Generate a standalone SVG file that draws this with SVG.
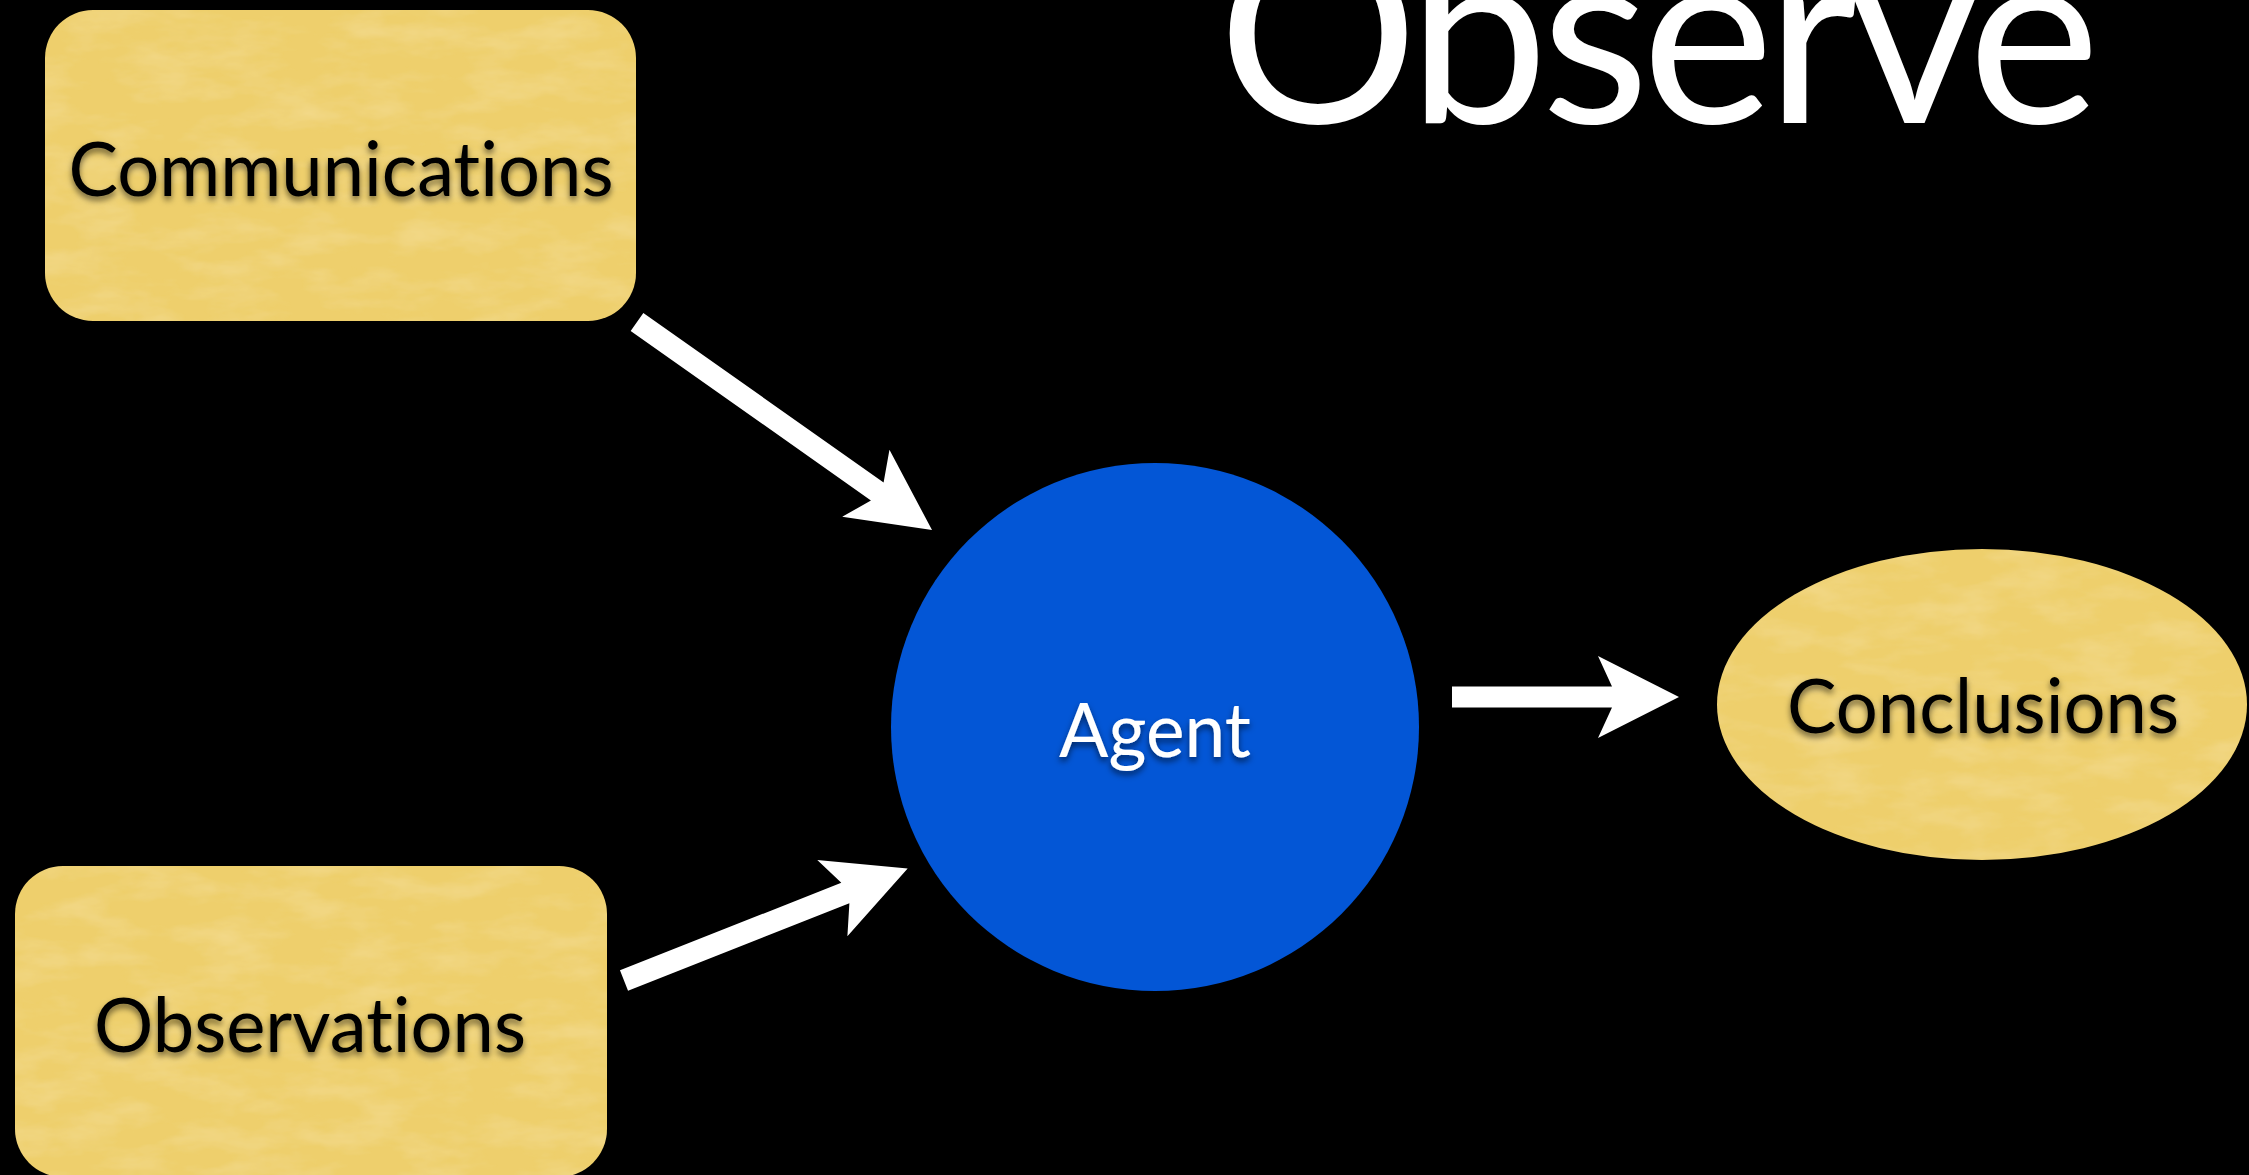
<svg xmlns="http://www.w3.org/2000/svg" width="2249" height="1175" viewBox="0 0 2249 1175">
  <defs>
    <style>
      .label { font-family: "Lato", "Liberation Sans", sans-serif; font-size: 75px; text-anchor: middle; font-variant-ligatures: none; }
      .dark { fill: #000000; }
      .light { fill: #ffffff; }
      .paper { fill: #EECF6C; }
      .agent { fill: #0356D6; }
      .arrow { fill: #ffffff; }
      .title { font-family: "Lato", "Liberation Sans", sans-serif; font-size: 250px; fill: #ffffff; font-variant-ligatures: none; }
    </style>
    <!-- soft shadow under the labels -->
    <filter id="textShadow" x="-10%" y="-30%" width="120%" height="170%">
      <feDropShadow dx="0" dy="4" stdDeviation="3" flood-color="#000000" flood-opacity="0.55"/>
    </filter>
    <!-- faint mottling for the parchment-coloured shapes -->
    <filter id="parchment" x="0" y="0" width="100%" height="100%">
      <feTurbulence type="fractalNoise" baseFrequency="0.015 0.04" numOctaves="4" seed="7" result="noise"/>
      <feColorMatrix in="noise" type="matrix"
        values="0 0 0 0 1
                0 0 0 0 0.9
                0 0 0 0 0.55
                0 0 0 0.45 -0.18" result="spots"/>
      <feComposite in="spots" in2="SourceGraphic" operator="in" result="clipped"/>
      <feMerge>
        <feMergeNode in="SourceGraphic"/>
        <feMergeNode in="clipped"/>
      </feMerge>
    </filter>
  </defs>

  <rect x="0" y="0" width="2249" height="1175" fill="#000000"/>

  <!-- heading, running off the top edge -->
  <text class="title" x="1218" y="123" textLength="882" lengthAdjust="spacing">Observe</text>

  <!-- connectors -->
  <g id="connectors">
    <!-- Communications -> Agent -->
    <path class="arrow" transform="translate(637 322) rotate(35.19)"
          d="M0,-11 L294,-11 L280,-41 L361,0 L280,41 L294,11 L0,11 Z"/>
    <!-- Observations -> Agent -->
    <path class="arrow" transform="translate(624 980.5) rotate(-21.56)"
          d="M0,-11 L238,-11 L224,-41 L305,0 L224,41 L238,11 L0,11 Z"/>
    <!-- Agent -> Conclusions -->
    <path class="arrow" transform="translate(1452 697)"
          d="M0,-10.5 L160,-10.5 L146,-41 L227,0 L146,41 L160,10.5 L0,10.5 Z"/>
  </g>

  <g id="communications">
    <rect class="paper" x="45" y="10" width="591" height="311" rx="48" ry="48" filter="url(#parchment)"/>
    <text class="label dark" x="341" y="196" textLength="545" lengthAdjust="spacingAndGlyphs" filter="url(#textShadow)">Communications</text>
  </g>

  <g id="observations">
    <rect class="paper" x="15" y="866" width="592" height="311" rx="48" ry="48" filter="url(#parchment)"/>
    <text class="label dark" x="310" y="1052" textLength="432" lengthAdjust="spacingAndGlyphs" filter="url(#textShadow)">Observations</text>
  </g>

  <g id="agent">
    <circle class="agent" cx="1155" cy="727" r="264"/>
    <text class="label light" x="1155" y="757" textLength="192" lengthAdjust="spacingAndGlyphs" filter="url(#textShadow)">Agent</text>
  </g>

  <g id="conclusions">
    <ellipse class="paper" cx="1982" cy="704.5" rx="265" ry="155.5" filter="url(#parchment)"/>
    <text class="label dark" x="1983" y="733" textLength="392" lengthAdjust="spacingAndGlyphs" filter="url(#textShadow)">Conclusions</text>
  </g>
</svg>
